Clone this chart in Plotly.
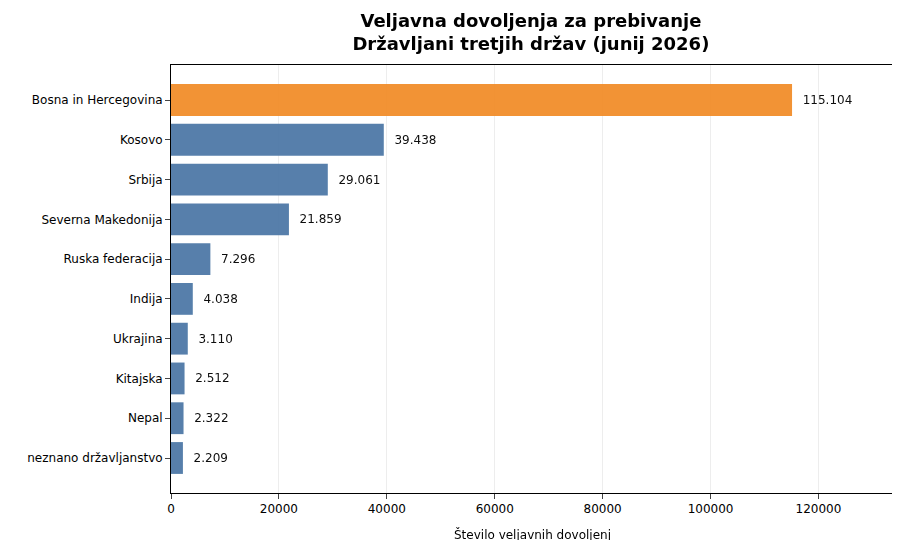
import plotly.graph_objects as go

drzave = ["Bosna in Hercegovina", "Kosovo", "Srbija", "Severna Makedonija",
          "Ruska federacija", "Indija", "Ukrajina", "Kitajska", "Nepal",
          "neznano državljanstvo"]
vrednosti = [115104, 39438, 29061, 21859, 7296, 4038, 3110, 2512, 2322, 2209]
oznake = ["115.104", "39.438", "29.061", "21.859", "7.296", "4.038",
          "3.110", "2.512", "2.322", "2.209"]

barve = ["#F28E2B" if i == 0 else "#4E79A7" for i in range(len(drzave))]

fig = go.Figure(go.Bar(
    x=vrednosti, y=drzave, orientation="h",
    marker=dict(color=barve, line=dict(width=0)), opacity=0.95,
    text=["  " + t for t in oznake], textposition="outside",
    textfont=dict(size=12, color="black"),
    width=0.8, cliponaxis=False,
))

fig.update_layout(
    width=900, height=540,
    font=dict(family="DejaVu Sans", size=12, color="black"),
    title=dict(text="<b>Veljavna dovoljenja za prebivanje<br>Državljani tretjih držav (junij 2026)</b>",
               x=0.581, xanchor="center", y=0.965, font=dict(size=18)),
    plot_bgcolor="white", paper_bgcolor="white",
    margin=dict(l=163, r=14, t=57, b=55, autoexpand=False),
    showlegend=False,
)
fig.update_xaxes(range=[0, 134000], tickvals=[0, 20000, 40000, 60000, 80000, 100000, 120000],
                 tickformat="d", showgrid=True, gridcolor="rgba(0,0,0,0.07)",
                 showline=True, linecolor="black", mirror=True, ticks="outside",
                 automargin=False,
                 title=dict(text="Število veljavnih dovoljenj", font=dict(size=12)), zeroline=False)
fig.update_yaxes(range=[9.88, -0.88], showline=True, linecolor="black", mirror=True,
                 ticks="outside", showgrid=False, automargin=False)

fig.write_html("out.html")
